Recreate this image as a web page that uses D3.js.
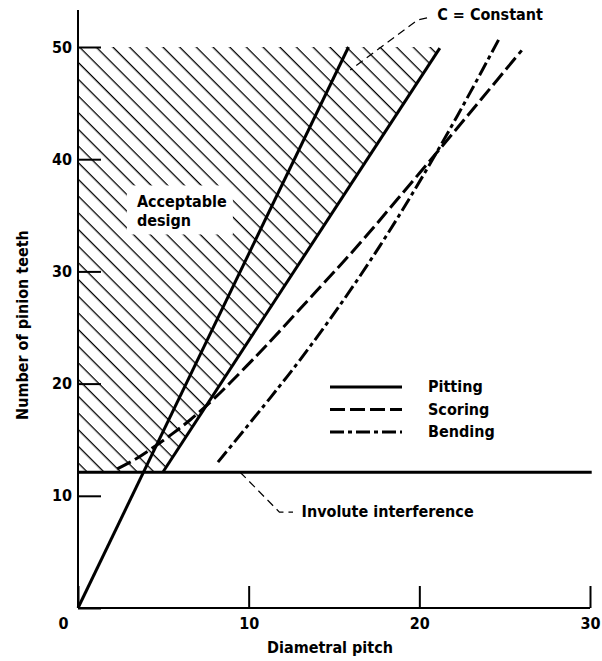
<!DOCTYPE html>
<html>
<head>
<meta charset="utf-8">
<script src="https://cdn.jsdelivr.net/npm/d3@7"></script>
<style>
  body { margin: 0; background: #fff; }
  svg text { font-family: "DejaVu Sans Condensed", "DejaVu Sans", sans-serif; font-weight: bold; font-size: 16px; fill: #000; }
</style>
</head>
<body>
<div id="chart"></div>
<script>
// tick labels
const xTicks = [0, 10, 20, 30];
const yTicks = [0, 10, 20, 30, 40, 50];

// involute interference limit (number of teeth)
const involuteTeeth = 12.1;
const involuteX = [0, 30.1];

// pitting lines (solid)
const pittingAX = [0, 15.85];
const pittingAY = [0, 50];
const pittingBX = [4.97, 21.2];
const pittingBY = [12.1, 49.9];

// scoring (dashed)
const scoringX = [2.3, 3.3, 4.4, 5.5, 6.6, 8.0, 9.9, 11.1, 14.0, 16.4, 18.7, 21.3, 23.6, 26.0];
const scoringY = [12.4, 13.2, 14.3, 15.5, 16.8, 18.7, 21.6, 23.5, 28.3, 32.3, 36.4, 41.1, 45.3, 49.7];

// bending (dash-dot)
const bendingX = [8.2, 11.3, 13.0, 15.4, 17.7, 19.5, 21.35, 23.0, 24.7];
const bendingY = [13.0, 18.8, 22.1, 27.1, 32.3, 36.7, 41.5, 46.0, 50.8];

const legendNames = ["Pitting", "Scoring", "Bending"];
const legendDash = [null, "15,5", "14,4,4,4"];

const width = 602, height = 661;
const svg = d3.select("#chart").append("svg")
    .attr("width", width)
    .attr("height", height);

const x = d3.scaleLinear().domain([0, 30]).range([78, 590]);
const y = d3.scaleLinear().domain([0, 50]).range([608, 47]);

const zip = (xs, ys) => xs.map((v, i) => [v, ys[i]]);
const line = d3.line().x(d => x(d[0])).y(d => y(d[1]));
const smooth = d3.line().x(d => x(d[0])).y(d => y(d[1])).curve(d3.curveCatmullRom.alpha(0.5));

// hatch pattern
const defs = svg.append("defs");
const pat = defs.append("pattern")
    .attr("id", "hatch")
    .attr("patternUnits", "userSpaceOnUse")
    .attr("width", 11.8)
    .attr("height", 11.8)
    .attr("patternTransform", "rotate(45)");
pat.append("rect")
    .attr("x", 0).attr("y", 0)
    .attr("width", 11.8).attr("height", 1.3)
    .attr("fill", "#000");

// acceptable design region
const region = [[0, involuteTeeth], [pittingBX[0], involuteTeeth], [pittingBX[1], 50], [0, 50]];
svg.append("path")
    .attr("d", line(region) + "Z")
    .attr("fill", "url(#hatch)")
    .attr("stroke", "none");

// label box inside the hatch
const accX = 3.45, accY = 35.7;
svg.append("rect")
    .attr("x", x(accX) - 10)
    .attr("y", y(accY) - 22)
    .attr("width", 106)
    .attr("height", 49)
    .attr("fill", "#fff");
svg.append("text").attr("x", x(accX)).attr("y", y(accY)).text("Acceptable");
svg.append("text").attr("x", x(accX)).attr("y", y(accY) + 19).text("design");

// axes
const yAxis = d3.axisLeft(y)
    .tickValues(yTicks)
    .tickSizeInner(-23)
    .tickSizeOuter(0)
    .tickPadding(6)
    .tickFormat(d => d === 0 ? "" : d);
const gy = svg.append("g").attr("transform", `translate(${x(0)},0)`).call(yAxis);

const xAxis = d3.axisBottom(x)
    .tickValues(xTicks)
    .tickSizeInner(-22)
    .tickSizeOuter(0)
    .tickPadding(10);
const gx = svg.append("g").attr("transform", `translate(0,${y(0)})`).call(xAxis);

[gx, gy].forEach(g => {
    g.select(".domain").remove();
    g.selectAll(".tick line").attr("stroke", "#000").attr("stroke-width", 2);
    g.selectAll(".tick text")
        .attr("fill", "#000")
        .style("font-family", "'DejaVu Sans Condensed', 'DejaVu Sans', sans-serif")
        .style("font-weight", "bold")
        .style("font-size", "16px");
});
gx.selectAll(".tick").filter(d => d === 0).select("text").attr("dx", -15);

svg.append("line")
    .attr("x1", x(0)).attr("x2", x(0))
    .attr("y1", y(0)).attr("y2", y(53.3))
    .attr("stroke", "#000").attr("stroke-width", 2);
svg.append("line")
    .attr("x1", x(0)).attr("x2", x(30))
    .attr("y1", y(0)).attr("y2", y(0))
    .attr("stroke", "#000").attr("stroke-width", 2);

// involute interference line
svg.append("path")
    .attr("d", line(involuteX.map(v => [v, involuteTeeth])))
    .attr("fill", "none").attr("stroke", "#000").attr("stroke-width", 3);

// pitting
svg.append("path")
    .attr("d", line(zip(pittingAX, pittingAY)))
    .attr("fill", "none").attr("stroke", "#000").attr("stroke-width", 3);
svg.append("path")
    .attr("d", line(zip(pittingBX, pittingBY)))
    .attr("fill", "none").attr("stroke", "#000").attr("stroke-width", 3);

// scoring
svg.append("path")
    .attr("d", smooth(zip(scoringX, scoringY)))
    .attr("fill", "none").attr("stroke", "#000").attr("stroke-width", 3)
    .attr("stroke-dasharray", legendDash[1]);

// bending
svg.append("path")
    .attr("d", smooth(zip(bendingX, bendingY)))
    .attr("fill", "none").attr("stroke", "#000").attr("stroke-width", 3)
    .attr("stroke-dasharray", legendDash[2]);

// leaders
const constLeader = [[20.45, 52.6], [19.9, 52.4], [15.95, 47.95]];
svg.append("path")
    .attr("d", line(constLeader))
    .attr("fill", "none").attr("stroke", "#000").attr("stroke-width", 1.2)
    .attr("stroke-dasharray", "8,5");
svg.append("text").attr("x", x(21.05)).attr("y", y(52.4)).text("C = Constant");

const invLeader = [[9.5, involuteTeeth], [11.8, 8.55], [12.6, 8.55]];
svg.append("path")
    .attr("d", line(invLeader))
    .attr("fill", "none").attr("stroke", "#000").attr("stroke-width", 1.2)
    .attr("stroke-dasharray", "8,5");
svg.append("text").attr("x", x(13.1)).attr("y", y(8.1)).text("Involute interference");

// legend
const leg = svg.append("g");
legendNames.forEach((name, i) => {
    const by = 392 + i * 22.5;
    leg.append("line")
        .attr("x1", 330).attr("x2", 402)
        .attr("y1", by - 5).attr("y2", by - 5)
        .attr("stroke", "#000").attr("stroke-width", 3)
        .attr("stroke-dasharray", legendDash[i]);
    leg.append("text").attr("x", 428).attr("y", by).text(name);
});

// axis titles
svg.append("text")
    .attr("x", 330).attr("y", 653)
    .attr("text-anchor", "middle")
    .text("Diametral pitch");
svg.append("text")
    .attr("transform", "translate(28,325) rotate(-90)")
    .attr("text-anchor", "middle")
    .text("Number of pinion teeth");
</script>
</body>
</html>
